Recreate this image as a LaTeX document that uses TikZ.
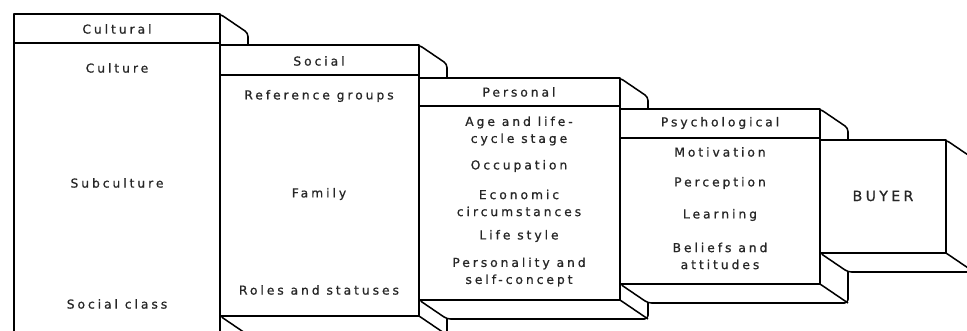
\documentclass[tikz,border=0pt]{standalone}
\usepackage{fontspec}
\newfontfamily\boxfont[LetterSpace=24,FakeBold=0.8]{DejaVu Sans}

\begin{document}
\begin{tikzpicture}
  [x=0.03cm,y=-0.03cm,line join=round,
   slab/.style={draw,fill=white,line width=1.3pt},
   item/.style={font=\boxfont\fontsize{10.5}{14.5}\selectfont,text=black!85,align=center,inner sep=0pt},]

\useasboundingbox (0,0) rectangle (967,330);
\clip (0,0) rectangle (967,330);

% slabs, back to front: left/top/right/bottom
\foreach \l/\t/\r/\b in {14/14/220/345, 220/45/419/316, 419/78/620/300, 620/109/820/284, 820/140/946/253}
{
\filldraw[slab,rounded corners=3pt] (\l,\t) -- (\r,\t) -- (\r+28,\t+19) -- (\r+28,\b+19) -- (\l+28,\b+19) -- (\l,\b) -- cycle;
\draw[slab] (\l,\t) rectangle (\r,\b);
\draw[slab] (\r,\b) -- (\r+28,\b+19);
}

% header lines
\foreach \l/\h/\r in {14/43/220, 220/75/419, 419/106/620, 620/138/820}
\draw[slab] (\l,\h) -- (\r,\h);

\node[item] (cultural) at (117,29) {Cultural};
\node[item] (culture) at (117,68) {Culture};
\node[item] (subculture) at (117,183) {Subculture};
\node[item] (class) at (117,304) {Social class};

\node[item] (social) at (319,61) {Social};
\node[item] (reference) at (319,96) {Reference groups};
\node[item] (family) at (319,194) {Family};
\node[item] (roles) at (319,290) {Roles and statuses};

\node[item] (personal) at (519,92) {Personal};
\node[item] (age) at (519,131) {Age and life-\\cycle stage};
\node[item] (occupation) at (519,166) {Occupation};
\node[item] (economic) at (519,203) {Economic\\circumstances};
\node[item] (lifestyle) at (519,236) {Life style};
\node[item] (personality) at (519,272) {Personality and\\self-concept};

\node[item] (psychological) at (720,123) {Psychological};
\node[item] (motivation) at (720,152) {Motivation};
\node[item] (perception) at (720,183) {Perception};
\node[item] (learning) at (720,215) {Learning};
\node[item] (beliefs) at (720,256) {Beliefs and\\attitudes};

\node[item,font=\boxfont\fontsize{12}{14}\selectfont] (buyer) at (883,196) {BUYER};

\end{tikzpicture}
\end{document}
